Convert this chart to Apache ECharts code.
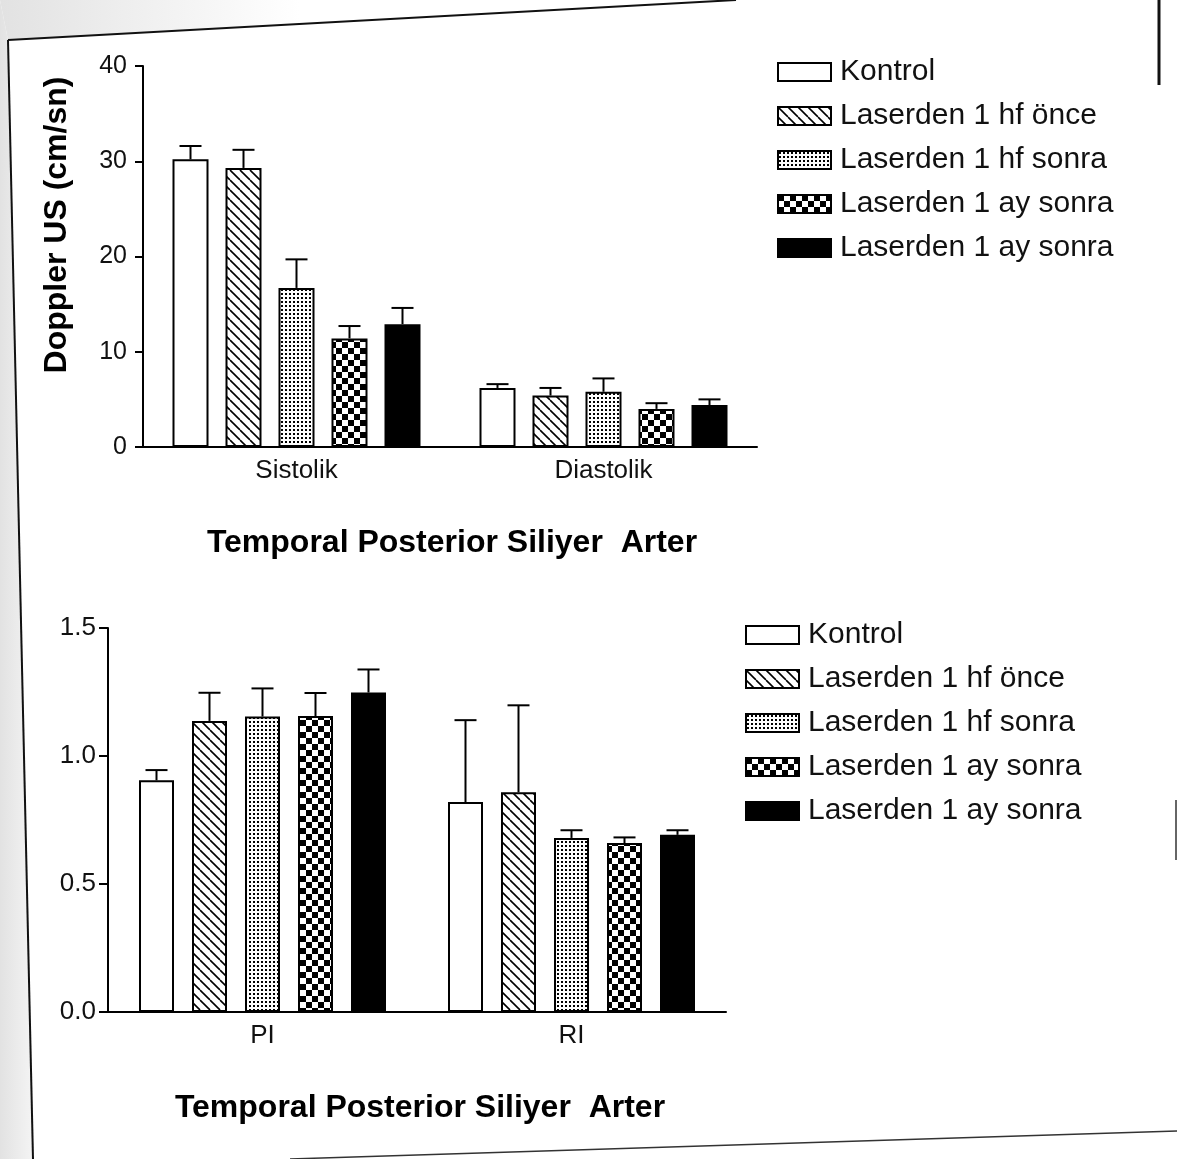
<!DOCTYPE html>
<html>
<head>
<meta charset="utf-8">
<script src="https://cdn.jsdelivr.net/npm/echarts@6/dist/echarts.min.js"></script>
<style>
html,body{margin:0;padding:0;background:#fff;}
#chart{width:1177px;height:1159px;}
</style>
</head>
<body>
<div id="chart"></div>
<script>
// ---------- DATA ----------
const topCategories = ['Sistolik', 'Diastolik'];
const bottomCategories = ['PI', 'RI'];
const groupNames = ['Kontrol', 'Laserden 1 hf önce', 'Laserden 1 hf sonra', 'Laserden 1 ay sonra', 'Laserden 1 ay sonra '];
const topTickLabels = ['0', '10', '20', '30', '40'];
const bottomTickLabels = ['0.0', '0.5', '1.0', '1.5'];
const chartTitle = 'Temporal Posterior Siliyer  Arter';
const topAxisName = 'Doppler US (cm/sn)';

// Top chart (cm/sn): means and upper error (SD)
const topKontrol = [30.2, 6.2];
const topKontrolErr = [1.4, 0.4];
const topHfOnce = [29.3, 5.4];
const topHfOnceErr = [1.9, 0.8];
const topHfSonra = [16.7, 5.8];
const topHfSonraErr = [3.0, 1.4];
const topAySonra = [11.4, 4.0];
const topAySonraErr = [1.3, 0.6];
const topAySonra2 = [12.9, 4.4];
const topAySonra2Err = [1.7, 0.6];

// Bottom chart (PI, RI)
const botKontrol = [0.905, 0.82];
const botKontrolErr = [0.04, 0.32];
const botHfOnce = [1.137, 0.858];
const botHfOnceErr = [0.11, 0.34];
const botHfSonra = [1.154, 0.68];
const botHfSonraErr = [0.11, 0.03];
const botAySonra = [1.156, 0.66];
const botAySonraErr = [0.09, 0.022];
const botAySonra2 = [1.248, 0.692];
const botAySonra2Err = [0.09, 0.018];

const topValues = [topKontrol, topHfOnce, topHfSonra, topAySonra, topAySonra2];
const topErrors = [topKontrolErr, topHfOnceErr, topHfSonraErr, topAySonraErr, topAySonra2Err];
const botValues = [botKontrol, botHfOnce, botHfSonra, botAySonra, botAySonra2];
const botErrors = [botKontrolErr, botHfOnceErr, botHfSonraErr, botAySonraErr, botAySonra2Err];

// ---------- PATTERNS ----------
function tile(w, h, draw) {
  const c = document.createElement('canvas');
  c.width = w; c.height = h;
  const ctx = c.getContext('2d');
  ctx.fillStyle = '#fff'; ctx.fillRect(0, 0, w, h);
  draw(ctx, w, h);
  return { image: c, repeat: 'repeat' };
}
const fills = [
  '#ffffff',
  tile(10, 10, (ctx, s) => {
    ctx.strokeStyle = '#000'; ctx.lineWidth = 1.6;
    for (let k = -1; k <= 1; k++) { ctx.beginPath(); ctx.moveTo(k * s, 0); ctx.lineTo(k * s + s, s); ctx.stroke(); }
  }),
  tile(4, 4, (ctx) => { ctx.fillStyle = '#000'; ctx.fillRect(1, 1, 2, 2); }),
  tile(12, 12, (ctx) => { ctx.fillStyle = '#000'; ctx.fillRect(0, 0, 6, 6); ctx.fillRect(6, 6, 6, 6); }),
  '#000000'
];

const font = '"Liberation Sans", Arial, sans-serif';

function barSeries(values, axisIdx, barW, gapPct) {
  return values.map((vals, i) => ({
    name: groupNames[i],
    type: 'bar',
    xAxisIndex: axisIdx, yAxisIndex: axisIdx,
    data: vals,
    barWidth: barW,
    barGap: gapPct,
    itemStyle: { color: fills[i], borderColor: '#000', borderWidth: 2 },
    emphasis: { disabled: true },
    z: 2
  }));
}
function errSeries(values, errors, axisIdx, barW, gap, capHalf) {
  const n = values.length;
  const total = n * barW + (n - 1) * gap;
  return values.map((vals, i) => {
    const offset = -total / 2 + barW / 2 + i * (barW + gap);
    return {
      name: 'err' + axisIdx + '_' + i,
      type: 'custom',
      xAxisIndex: axisIdx, yAxisIndex: axisIdx,
      data: vals.map((v, c) => [c, v, errors[i][c]]),
      encode: { x: 0, y: 1 },
      z: 5,
      silent: true,
      renderItem: function (params, api) {
        const c = api.value(0), v = api.value(1), e = api.value(2);
        const p0 = api.coord([c, v]);
        const p1 = api.coord([c, v + e]);
        const x = p0[0] + offset;
        const st = { stroke: '#000', lineWidth: 2 };
        return {
          type: 'group',
          children: [
            { type: 'line', shape: { x1: x, y1: p0[1], x2: x, y2: p1[1] }, style: st },
            { type: 'line', shape: { x1: x - capHalf, y1: p1[1], x2: x + capHalf, y2: p1[1] }, style: st }
          ]
        };
      }
    };
  });
}

const TOP_BW = 36, TOP_GAP = 17;
const BOT_BW = 35, BOT_GAP = 18;

const axisLine = { show: true, lineStyle: { color: '#000', width: 2 } };
const legendBase = {
  orient: 'vertical',
  data: groupNames,
  icon: 'rect',
  itemWidth: 53,
  itemHeight: 18,
  itemGap: 14,
  selectedMode: false,
  itemStyle: { borderColor: '#000', borderWidth: 2 },
  textStyle: { fontFamily: font, fontSize: 30, color: '#111', padding: [0, 0, 0, 4], lineHeight: 30 }
};

const option = {
  animation: false,
  backgroundColor: '#fff',
  grid: [
    { left: 143, width: 614, top: 66, height: 381 },
    { left: 108, width: 618, top: 628, height: 384 }
  ],
  legend: [
    Object.assign({}, legendBase, { left: 772, top: 52 }),
    Object.assign({}, legendBase, { left: 740, top: 615 })
  ],
  xAxis: [
    { type: 'category', gridIndex: 0, data: topCategories, axisLine: axisLine, axisTick: { show: false },
      axisLabel: { fontFamily: font, fontSize: 26, color: '#111', margin: 11 } },
    { type: 'category', gridIndex: 1, data: bottomCategories, axisLine: axisLine, axisTick: { show: false },
      axisLabel: { fontFamily: font, fontSize: 26, color: '#111', margin: 11 } }
  ],
  yAxis: [
    { type: 'value', gridIndex: 0, min: 0, max: 40, interval: 10,
      axisLine: axisLine, axisTick: { show: true, length: 8, lineStyle: { color: '#000', width: 2 } },
      splitLine: { show: false },
      axisLabel: { fontFamily: font, fontSize: 25, color: '#111', margin: 16,
        formatter: (v) => topTickLabels[Math.round(v / 10)] } },
    { type: 'value', gridIndex: 1, min: 0, max: 1.5, interval: 0.5,
      axisLine: axisLine, axisTick: { show: true, length: 9, lineStyle: { color: '#000', width: 2 } },
      splitLine: { show: false },
      axisLabel: { fontFamily: font, fontSize: 26, color: '#111', margin: 12,
        formatter: (v) => bottomTickLabels[Math.round(v / 0.5)] } }
  ],
  graphic: [
    { type: 'polygon', shape: { points: [[0, 0], [8, 40], [33, 1159], [0, 1159]] },
      style: { fill: { type: 'linear', x: 0, y: 0, x2: 1, y2: 0, colorStops: [{ offset: 0, color: '#e2e2e2' }, { offset: 1, color: '#f4f4f4' }] } }, z: -10 },
    { type: 'polygon', shape: { points: [[0, 0], [300, 0], [300, 24], [8, 40]] },
      style: { fill: { type: 'linear', x: 0, y: 0, x2: 1, y2: 0, colorStops: [{ offset: 0, color: '#e2e2e2' }, { offset: 1, color: '#ffffff' }] } }, z: -10 },
    { type: 'text', x: 57, y: 225, rotation: Math.PI / 2,
      style: { text: topAxisName, textAlign: 'center', textVerticalAlign: 'middle',
        font: 'bold 32px ' + font, fill: '#000' } },
    { type: 'text', x: 452, y: 543, style: { text: chartTitle, textAlign: 'center', textVerticalAlign: 'middle',
      font: 'bold 32px ' + font, fill: '#000' } },
    { type: 'text', x: 420, y: 1108, style: { text: chartTitle, textAlign: 'center', textVerticalAlign: 'middle',
      font: 'bold 32px ' + font, fill: '#000' } },
    { type: 'line', shape: { x1: 8, y1: 40, x2: 736, y2: 0 }, style: { stroke: '#111', lineWidth: 2 } },
    { type: 'line', shape: { x1: 8, y1: 40, x2: 33, y2: 1159 }, style: { stroke: '#111', lineWidth: 2 } },
    { type: 'line', shape: { x1: 290, y1: 1159, x2: 1177, y2: 1131 }, style: { stroke: '#333', lineWidth: 1.5 } },
    { type: 'line', shape: { x1: 1159, y1: 0, x2: 1159, y2: 85 }, style: { stroke: '#111', lineWidth: 3 } },
    { type: 'line', shape: { x1: 1176, y1: 800, x2: 1176, y2: 860 }, style: { stroke: '#333', lineWidth: 1.5 } }
  ],
  series: [].concat(
    barSeries(topValues, 0, TOP_BW, (TOP_GAP / TOP_BW * 100) + '%'),
    barSeries(botValues, 1, BOT_BW, (BOT_GAP / BOT_BW * 100) + '%'),
    errSeries(topValues, topErrors, 0, TOP_BW, TOP_GAP, 11),
    errSeries(botValues, botErrors, 1, BOT_BW, BOT_GAP, 11)
  )
};

const chart = echarts.init(document.getElementById('chart'), null, { renderer: 'canvas' });
chart.setOption(option);
</script>
</body>
</html>
